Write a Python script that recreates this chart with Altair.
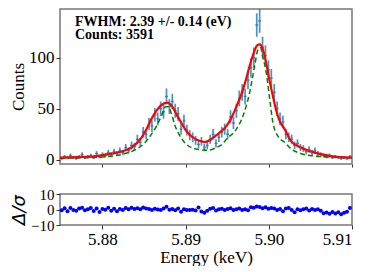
import altair as alt
import pandas as pd
import numpy as np

# ---- data ----
E0 = 5.8751
BIN = 0.00035
counts = [
    1, 3, 2, 4, 2, 1, 3, 5, 2, 3,
    4, 2, 6, 3, 5, 4, 7, 5, 8, 6,
    9, 7, 12, 9, 14, 13, 20, 17, 27, 25,
    35, 33, 44, 40, 50, 47, 62, 52, 57, 48,
    45, 30, 38, 29, 24, 22, 19, 15, 18, 12,
    14, 20, 25, 16, 22, 27, 30, 25, 42, 36,
    48, 60, 66, 62, 78, 90, 100, 132, 136, 110,
    102, 88, 80, 66, 50, 40, 37, 25, 22, 20,
    14, 16, 12, 11, 8, 10, 7, 9, 6, 5,
    4, 3, 4, 2, 3, 2, 1, 2, 1, 3,
]
energy = [round(E0 + BIN * i, 5) for i in range(len(counts))]

residuals = [
    -0.5, 0.8, -1.2, 0.9, -0.3, -0.8, 0.6, 1.2, -0.5, 0.2,
    1.0, -0.9, 0.7, -1.6, 0.4, -0.2, 1.1, -0.8, 0.5, -1.2,
    0.3, -0.4, 0.9, 0.1, 1.1, 0.4, 0.8, 0.2, 1.3, 0.6,
    0.3, -0.3, 0.5, 0.0, -0.4, 0.6, 1.8, -0.2, 0.4, -0.5,
    0.6, -1.5, 0.2, -0.4, -0.3, -0.1, -0.6, 1.3, -1.3, -2.1,
    -0.8, 0.5, 0.9, -0.6, 0.2, 0.5, -0.3, 0.4, 0.8, -0.4,
    0.2, 0.6, -0.3, 0.1, -0.5, 1.5, 1.2, 1.9, 1.6, 0.8,
    1.4, 0.5, 1.0, 0.6, -0.4, 0.3, -1.1, 0.6, 1.0, -0.3,
    -1.8, 0.2, -0.5, 0.1, 0.6, -0.7, 0.4, -0.3, 0.2, -0.8,
    -2.4, -2.0, -2.8, -1.6, -2.5, -1.8, -3.0, -2.1, -1.4, 1.0,
]

fit_e = [5.8749, 5.877, 5.879, 5.8805, 5.8825, 5.8835, 5.8847, 5.8853, 5.8859,
         5.8865, 5.887, 5.8878, 5.8884, 5.889, 5.8895, 5.8901, 5.8907, 5.8915,
         5.8923, 5.893, 5.8937, 5.8943, 5.8949, 5.8955, 5.8961, 5.8967, 5.8972,
         5.8977, 5.8982, 5.8986, 5.8989, 5.8993, 5.8997, 5.9001, 5.9005, 5.9009,
         5.9013, 5.9019, 5.9027, 5.9039, 5.9055, 5.9075, 5.9101]
fit_c = [2.0, 2.6, 3.3, 5.3, 8.5, 12.0, 21.6, 30.0, 40.0,
         48.0, 53.0, 56.0, 52.0, 43.0, 36.0, 28.0, 23.0, 19.0,
         17.3, 19.5, 24.0, 28.0, 33.0, 41.0, 52.0, 64.0, 77.0,
         92.0, 105.0, 112.0, 113.0, 108.0, 94.0, 77.0, 62.0, 48.0,
         38.0, 30.0, 18.0, 11.8, 7.0, 3.6, 2.0]

line_e = [5.8749, 5.878, 5.8805, 5.8825, 5.8841, 5.8851, 5.8859, 5.8865, 5.8871,
          5.8876, 5.8879, 5.8883, 5.8887, 5.8891, 5.8899, 5.8911, 5.8927, 5.8937,
          5.8943, 5.8949, 5.8961, 5.8969, 5.8977, 5.8983, 5.8987, 5.8990, 5.8993,
          5.8997, 5.9001, 5.9005, 5.9011, 5.9019, 5.9027, 5.9039, 5.9055, 5.9075,
          5.9101]
line_c = [1.5, 2.0, 3.0, 5.5, 10.5, 16.7, 25.0, 33.0, 43.0,
          52.0, 52.0, 45.0, 34.0, 26.5, 16.7, 10.8, 9.2, 12.0,
          14.5, 20.0, 30.0, 43.0, 66.0, 92.0, 108.0, 110.0, 100.0,
          85.0, 60.0, 36.0, 23.0, 17.0, 10.5, 5.9, 3.6, 2.6,
          2.0]

# ---- tables ----
data = pd.DataFrame({"E": energy, "C": counts})
err = np.sqrt(np.maximum(data["C"], 1))
data["lo"] = data["C"] - err
data["hi"] = data["C"] + err
data["El"] = data["E"] - BIN / 2
data["Eh"] = data["E"] + BIN / 2
res = pd.DataFrame({"E": energy, "R": residuals})
fit = pd.DataFrame({"E": fit_e, "C": fit_c})
lin = pd.DataFrame({"E": line_e, "C": line_c})

FONT = "Times New Roman, Liberation Serif, serif"
XDOM = [5.8749, 5.91]
W = 292

xs_top = alt.Scale(domain=XDOM, nice=False, zero=False)
x_top_axis = alt.Axis(labels=False, ticks=True, tickSize=3, title=None, grid=False,
                      domain=False, values=[5.88, 5.89, 5.90, 5.91], tickColor="#333")
ys_top = alt.Scale(domain=[-4.2, 147.7], nice=False, zero=False)
y_top_axis = alt.Axis(values=[0, 50, 100], title="Counts", grid=False, domain=False,
                      tickSize=4, labelFontSize=17, titleFontSize=17, labelFont=FONT,
                      titleFont=FONT, titleFontWeight="normal", titleColor="black",
                      labelColor="black", tickColor="#333", titlePadding=1, labelPadding=2)

base = alt.Chart(data)
ebar_y = base.mark_rule(color="#1f77b4", opacity=0.8, strokeWidth=1.7, clip=True).encode(
    x=alt.X("E:Q", scale=xs_top, axis=x_top_axis),
    y=alt.Y("lo:Q", scale=ys_top, axis=y_top_axis),
    y2="hi:Q",
)
ebar_x = base.mark_rule(color="#1f77b4", opacity=0.8, strokeWidth=1.4, clip=True).encode(
    x="El:Q", x2="Eh:Q", y="C:Q"
)
green = alt.Chart(lin).mark_line(color="#008000", strokeWidth=1.5, strokeDash=[5, 3],
                                 interpolate="monotone", clip=True).encode(x="E:Q", y="C:Q")
red = alt.Chart(fit).mark_line(color="#ff0000", strokeWidth=2.2,
                               interpolate="monotone", clip=True).encode(x="E:Q", y="C:Q")
txt1 = alt.Chart(pd.DataFrame({"t": ["FWHM:  2.39 +/- 0.14 (eV)"]})).mark_text(
    align="left", baseline="alphabetic", font=FONT, fontSize=14, fontWeight="bold",
    color="black").encode(text="t:N", x=alt.value(15), y=alt.value(16.5))
txt2 = alt.Chart(pd.DataFrame({"t": ["Counts: 3591"]})).mark_text(
    align="left", baseline="alphabetic", font=FONT, fontSize=14, fontWeight="bold",
    color="black").encode(text="t:N", x=alt.value(15), y=alt.value(30))

top = alt.layer(ebar_y, ebar_x, green, red, txt1, txt2).properties(width=W, height=155)

bottom = alt.Chart(res).mark_circle(color="#0000ff", size=16, opacity=1).encode(
    x=alt.X("E:Q", scale=alt.Scale(domain=XDOM, nice=False, zero=False),
            axis=alt.Axis(values=[5.88, 5.89, 5.90, 5.91], format=".2f", title="Energy (keV)",
                          grid=False, domain=False, tickSize=4, labelFontSize=17,
                          titleFontSize=17, labelFont=FONT, titleFont=FONT,
                          titleFontWeight="normal", labelColor="black", titleColor="black",
                          tickColor="#333", titlePadding=2, labelOverlap=False)),
    y=alt.Y("R:Q", scale=alt.Scale(domain=[-10, 10], nice=False),
            axis=alt.Axis(values=[-10, 0, 10], title="Δ/σ", grid=False, domain=False,
                          tickSize=4, labelFontSize=15, titleFontSize=18, labelFont=FONT,
                          titleFont="DejaVu Sans", titleFontStyle="italic",
                          titleFontWeight="normal", labelColor="black", titleColor="black",
                          tickColor="#333", titlePadding=2, labelPadding=2,
                          labelOverlap=False, labelBound=False, labelFlush=False)),
).properties(width=W, height=31)

chart = alt.vconcat(top, bottom, spacing=30, bounds="flush").properties(
    padding={"left": 0, "top": 0, "right": 5, "bottom": 0}
).configure_view(stroke="#777777", strokeWidth=1.5)

chart.save("out.html", embed_options={"renderer": "svg", "actions": False})
